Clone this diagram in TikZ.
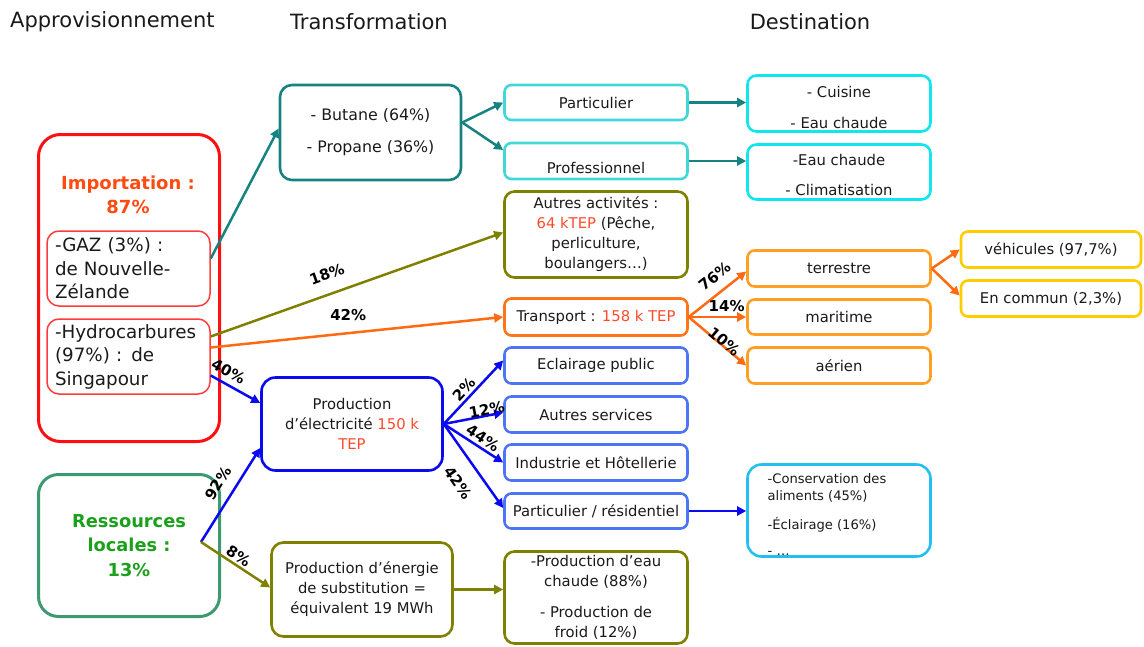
\documentclass[tikz,border=0pt]{standalone}
\usepackage{fontspec}
\setmainfont{DejaVu Sans}
\usetikzlibrary{arrows.meta,calc}
\definecolor{txt}{HTML}{1A1A1A}
\definecolor{tealc}{HTML}{168282}
\definecolor{cyanL}{HTML}{44D7D7}
\definecolor{cyanB}{HTML}{10E6F0}
\definecolor{olivec}{HTML}{808000}
\definecolor{orangeT}{HTML}{FF7518}
\definecolor{orangeA}{HTML}{FF6A13}
\definecolor{orangeB}{HTML}{FFA024}
\definecolor{yellowc}{HTML}{FFCC00}
\definecolor{blueE}{HTML}{0A0AF0}
\definecolor{blueL}{HTML}{4D74F5}
\definecolor{consc}{HTML}{22BFF0}
\definecolor{redc}{HTML}{FF1010}
\definecolor{redL}{HTML}{FF3B3B}
\definecolor{impc}{HTML}{FF4A10}
\definecolor{rednum}{HTML}{FF4A2A}
\definecolor{greenB}{HTML}{3D9970}
\definecolor{greenT}{HTML}{1BA01B}
\begin{document}
\begin{tikzpicture}[x=1pt,y=-1pt,
  box/.style={draw, line width=2.6pt, rounded corners=7pt, inner sep=0pt,
    align=center, text=txt, font=\fontsize{14.8}{20}\selectfont},
  sz/.style 2 args={minimum width=#1, minimum height=#2},
  txtn/.style={inner sep=0pt, align=center, text=txt, font=\fontsize{14.8}{20}\selectfont},
  ttl/.style={inner sep=0pt, text=txt, font=\fontsize{21}{24}\selectfont},
  lbl/.style={inner sep=0pt, text=black, font=\bfseries\fontsize{15}{15}\selectfont},
  arr/.style={-{Triangle[length=9pt,width=9pt]}, line width=2.5pt},
]
\useasboundingbox (0,0) rectangle (1144,646);

% titles
\node[ttl, anchor=west] (t1) at (10,22) {Approvisionnement};
\node[ttl] (t2) at (369,22) {Transformation};
\node[ttl] (t3) at (810,22) {Destination};

% supply
\node[box, draw=redc, line width=3pt, rounded corners=22pt, sz={181}{307}] (imp) at (129,288) {};
\node[inner sep=0pt, align=center, text=impc, font=\bfseries\fontsize{18}{24}\selectfont] (impt) at (128,195) {Importation :\\87\%};
\node[box, draw=redL, line width=1.5pt, rounded corners=12pt, sz={163}{75}, text width=147pt, align=left, font=\fontsize{18.3}{23.5}\selectfont] (gaz) at (128.5,268.5) {-GAZ (3\%) :\\de Nouvelle-\\Zélande};
\node[box, draw=redL, line width=1.5pt, rounded corners=12pt, sz={163}{75}, text width=147pt, align=left, font=\fontsize{18.3}{23.5}\selectfont] (hyd) at (128.5,356.5) {-Hydrocarbures\\(97\%) : de\\Singapour};
\node[box, draw=greenB, line width=3pt, rounded corners=20pt, sz={181}{142}, text=greenT, font=\bfseries\fontsize{17.8}{24.5}\selectfont] (res) at (129,545.5) {Ressources\\locales :\\13\%};
\coordinate (rs) at (201,542);

% transformation
\node[box, draw=tealc, rounded corners=12pt, sz={181}{95}, font=\fontsize{15.8}{20}\selectfont] (but) at (370.5,132.5) {- Butane (64\%)\\[12pt]- Propane (36\%)};
\node[box, draw=blueE, rounded corners=14pt, sz={181}{93}] (elec) at (352,424) {Production\\d’électricité \textcolor{rednum}{150 k}\\\textcolor{rednum}{TEP}};
\node[box, draw=olivec, rounded corners=12pt, sz={181}{94}] (subst) at (362,589.5) {Production d’énergie\\de substitution =\\équivalent 19 MWh};

% middle column
\node[box, draw=cyanL, sz={183}{35}] (part) at (596,102.5) {Particulier};
\node[box, draw=cyanL, sz={183}{36}] (prof) at (596,161) {};
\node[txtn] (proft) at (596,168) {Professionnel};
\node[box, draw=olivec, rounded corners=10pt, sz={183}{86}] (autres) at (596,234.5) {Autres activités :\\\textcolor{rednum}{64 kTEP} (Pêche,\\perliculture,\\boulangers…)};
\node[box, draw=orangeT, sz={183}{37}] (transp) at (596,317) {Transport : \textcolor{rednum}{158 k TEP}};
\node[box, draw=blueL, sz={183}{36}] (ecl) at (596,365.5) {Eclairage public};
\node[box, draw=blueL, sz={183}{36}] (aserv) at (596,414.5) {Autres services};
\node[box, draw=blueL, sz={183}{36}] (indus) at (596,462.5) {Industrie et Hôtellerie};
\node[box, draw=blueL, sz={183}{35}] (pres) at (596,511) {Particulier / résidentiel};
\node[box, draw=olivec, rounded corners=10pt, sz={183}{92}] (eau) at (596,597.5) {-Production d’eau\\chaude (88\%)\\[11pt]- Production de\\froid (12\%)};

% destinations
\node[box, draw=cyanB, rounded corners=9pt, sz={183}{56}] (cuis) at (839,103.5) {};
\node[txtn] (cuist) at (839,107) {- Cuisine\\[11pt]- Eau chaude};
\node[box, draw=cyanB, rounded corners=9pt, sz={183}{55}] (clim) at (839,172) {};
\node[txtn] (climt) at (839,175) {-Eau chaude\\[10pt]- Climatisation};
\node[box, draw=orangeB, sz={183}{36}] (terr) at (839,268.5) {terrestre};
\node[box, draw=orangeB, sz={183}{35}] (mari) at (839,317) {maritime};
\node[box, draw=orangeB, sz={183}{36}] (aer) at (839,365.5) {aérien};
\node[box, draw=yellowc, sz={180}{36}] (vehi) at (1051,249.5) {véhicules (97,7\%)};
\node[box, draw=yellowc, sz={180}{36}] (comm) at (1051,298.5) {En commun (2,3\%)};
\node[box, draw=consc, rounded corners=14pt, sz={183}{92}] (cons) at (839,510.5) {};
\node[inner sep=0pt, align=left, text=txt, font=\fontsize{13.1}{17}\selectfont] (const) at (827,515) {-Conservation des\\aliments (45\%)\\[12pt]-Éclairage (16\%)\\[9pt]- …};

% connectors
\draw[arr, tealc] ($(gaz.east)+(0,-10)$) -- ($(but.west)+(0,-4)$);
\draw[arr, tealc] ($(but.east)+(0,-10)$) -- (part.west);
\draw[arr, tealc] ($(but.east)+(0,-10)$) -- ($(prof.west)+(0,-11)$);
\draw[arr, tealc] (part.east) -- (part.east -| cuis.west);
\draw[arr, tealc] (prof.east) -- (prof.east -| clim.west);

\draw[arr, olivec] ($(hyd.east)+(0,-20)$) -- ($(autres.west)+(0,-2)$)
  node[lbl, pos=0.42, sloped, above=13pt] (l18) {18\%};
\draw[arr, orangeA] ($(hyd.east)+(0,-9)$) -- (transp.west)
  node[lbl, pos=0.47, above=11pt] (l42a) {42\%};
\draw[arr, blueE] ($(hyd.east)+(0,19)$) -- ($(elec.west)+(0,-21)$)
  node[lbl, pos=0.24, sloped, above=5pt] (l40) {40\%};
\draw[arr, blueE] (rs) -- ($(elec.west)+(0,24)$)
  node[lbl, pos=0.53, sloped, above=10pt] (l92) {92\%};
\draw[arr, olivec] (rs) -- ($(subst.west)+(0,-2)$)
  node[lbl, pos=0.47, sloped, above=2pt] (l8) {8\%};

\draw[arr, blueE] (elec.east) -- ($(ecl.west)+(0,-5)$)
  node[lbl, pos=0.45, sloped, above=2pt] (l2) {2\%};
\draw[arr, blueE] (elec.east) -- ($(aserv.west)+(0,-2)$)
  node[lbl, pos=0.74, sloped, above=-1pt] (l12) {12\%};
\draw[arr, blueE] (elec.east) -- (indus.west)
  node[lbl, pos=0.57, sloped, above=2.5pt] (l44) {44\%};
\draw[arr, blueE] (elec.east) -- ($(pres.west)+(0,-3)$)
  node[lbl, pos=0.55, sloped, below=15pt] (l42b) {42\%};
\draw[arr, blueE] (pres.east) -- (pres.east -| cons.west);
\draw[arr, olivec] (subst.east) -- (subst.east -| eau.west);

\draw[arr, orangeA] (transp.east) -- ($(terr.west)+(0,3)$)
  node[lbl, pos=0.62, sloped, above=9pt] (l76) {76\%};
\draw[arr, orangeA] (transp.east) -- (mari.west)
  node[lbl, pos=0.66, above=4pt] (l14) {14\%};
\draw[arr, orangeA] (transp.east) -- (aer.west)
  node[lbl, pos=0.57, sloped, above=-3pt] (l10) {10\%};
\draw[arr, orangeA] (terr.east) -- (vehi.west);
\draw[arr, orangeA] (terr.east) -- ($(comm.west)+(0,-3)$);
\end{tikzpicture}
\end{document}
